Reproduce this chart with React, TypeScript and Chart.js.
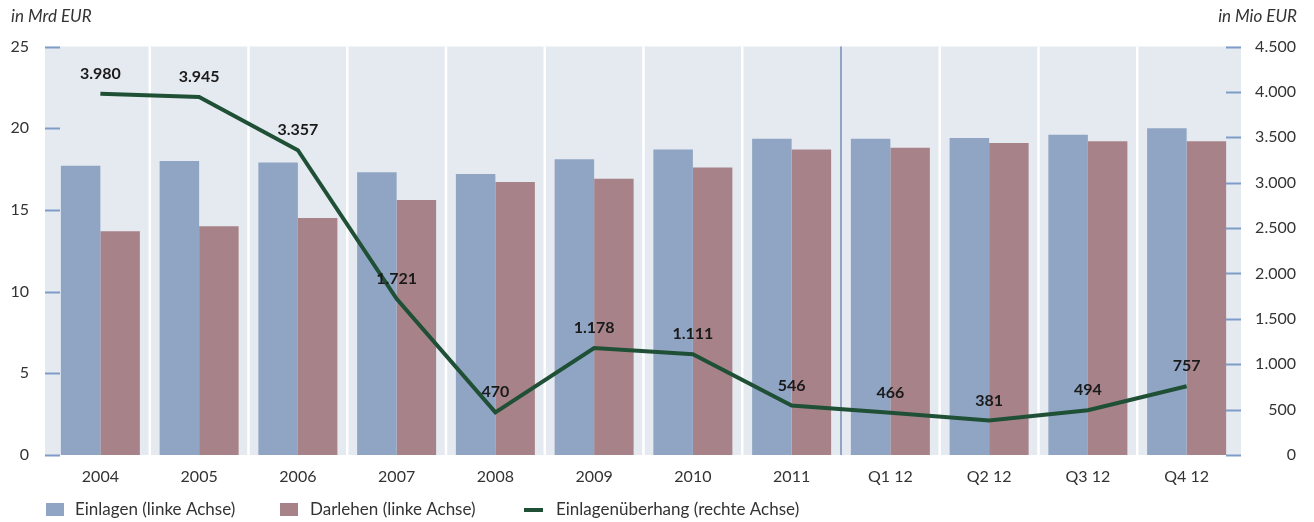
import React, { useEffect, useRef } from "react";
import { Chart, registerables } from "chart.js";

Chart.register(...registerables);

const categories = ["2004", "2005", "2006", "2007", "2008", "2009", "2010", "2011", "Q1 12", "Q2 12", "Q3 12", "Q4 12"];
const einlagen = [17.7, 18.0, 17.9, 17.3, 17.2, 18.1, 18.7, 19.35, 19.35, 19.4, 19.6, 20.0];
const darlehen = [13.7, 14.0, 14.5, 15.6, 16.7, 16.9, 17.6, 18.7, 18.8, 19.1, 19.2, 19.2];
const ueberhang = [3980, 3945, 3357, 1721, 470, 1178, 1111, 546, 466, 381, 494, 757];
const leftTicks = { min: 0, max: 25, step: 5 };
const rightTicks = { min: 0, max: 4500, step: 500 };
const seriesNames = ["Einlagen (linke Achse)", "Darlehen (linke Achse)", "Einlagenüberhang (rechte Achse)"];
const axisTitles = ["in Mrd EUR", "in Mio EUR"];
const dividerAfterIndex = 7;

const BLUE = "#8fa5c3";
const RED = "#a78389";
const GREEN = "#1f5036";
const BG = "#e5e9f0";
const TICKBLUE = "#7f9cc8";
const TEXT = "#333333";
const FONT = "Lato, 'Open Sans', sans-serif";

const fmt = (v: number) => String(Math.round(v)).replace(/\B(?=(\d{3})+(?!\d))/g, ".");

const decorPlugin = {
  id: "decor",
  beforeDatasetsDraw(chart: any) {
    const { ctx, chartArea } = chart;
    const { left, right, top, bottom } = chartArea;
    const bgL = left - 6;
    const bgR = right + 5;
    ctx.save();
    ctx.fillStyle = BG;
    ctx.fillRect(bgL, top, bgR - bgL, bottom - top);
    const n = categories.length;
    const w = (right - left) / n;
    for (let i = 1; i < n; i++) {
      const x = left + i * w;
      ctx.beginPath();
      if (i === dividerAfterIndex + 1) {
        ctx.strokeStyle = BLUE;
        ctx.lineWidth = 2;
      } else {
        ctx.strokeStyle = "#ffffff";
        ctx.lineWidth = 2.5;
      }
      ctx.moveTo(x, top);
      ctx.lineTo(x, bottom);
      ctx.stroke();
    }
    ctx.strokeStyle = TICKBLUE;
    ctx.lineWidth = 2;
    chart.scales.y.ticks.forEach((t: any) => {
      const y = Math.round(chart.scales.y.getPixelForValue(t.value)) + 0.5;
      ctx.beginPath();
      ctx.moveTo(bgL, y);
      ctx.lineTo(bgL + 15, y);
      ctx.stroke();
    });
    chart.scales.y1.ticks.forEach((t: any) => {
      const y = Math.round(chart.scales.y1.getPixelForValue(t.value)) + 0.5;
      ctx.beginPath();
      ctx.moveTo(bgR - 15, y);
      ctx.lineTo(bgR, y);
      ctx.stroke();
    });
    ctx.restore();
  },
  afterDatasetsDraw(chart: any) {
    const { ctx } = chart;
    const meta = chart.getDatasetMeta(2);
    ctx.save();
    ctx.font = `bold 16px ${FONT}`;
    ctx.fillStyle = "#1a1a1a";
    ctx.textAlign = "center";
    ctx.textBaseline = "middle";
    meta.data.forEach((pt: any, i: number) => {
      ctx.fillText(fmt(ueberhang[i]), pt.x, pt.y - 20);
    });
    ctx.restore();
  },
  afterDraw(chart: any) {
    const { ctx, width } = chart;
    ctx.save();
    ctx.fillStyle = TEXT;
    ctx.font = `italic 17px ${FONT}`;
    ctx.textBaseline = "middle";
    ctx.textAlign = "left";
    ctx.fillText(axisTitles[0], 11, 17);
    ctx.textAlign = "right";
    ctx.fillText(axisTitles[1], width - 17, 17);

    // legend
    const ly = 510;
    ctx.font = `17px ${FONT}`;
    ctx.textAlign = "left";
    ctx.fillStyle = BLUE;
    ctx.fillRect(46, ly - 7, 18, 13);
    ctx.fillStyle = TEXT;
    ctx.fillText(seriesNames[0], 75, ly);
    ctx.fillStyle = RED;
    ctx.fillRect(280, ly - 7, 18, 13);
    ctx.fillStyle = TEXT;
    ctx.fillText(seriesNames[1], 310, ly);
    ctx.strokeStyle = GREEN;
    ctx.lineWidth = 4;
    ctx.beginPath();
    ctx.moveTo(524, ly);
    ctx.lineTo(543, ly);
    ctx.stroke();
    ctx.fillStyle = TEXT;
    ctx.fillText(seriesNames[2], 556, ly);
    ctx.restore();
  },
};

export default function App() {
  const ref = useRef<HTMLCanvasElement | null>(null);
  useEffect(() => {
    let chart: Chart | null = null;
    let cancelled = false;
    const make = () => {
      if (cancelled || !ref.current) return;
      chart = new Chart(ref.current, {
        data: {
          labels: categories,
          datasets: [
            {
              type: "bar",
              label: seriesNames[0],
              data: einlagen,
              backgroundColor: BLUE,
              borderWidth: 0,
              categoryPercentage: 0.8,
              barPercentage: 1.0,
              yAxisID: "y",
              order: 2,
            },
            {
              type: "bar",
              label: seriesNames[1],
              data: darlehen,
              backgroundColor: RED,
              borderWidth: 0,
              categoryPercentage: 0.8,
              barPercentage: 1.0,
              yAxisID: "y",
              order: 2,
            },
            {
              type: "line",
              label: seriesNames[2],
              data: ueberhang,
              borderColor: GREEN,
              backgroundColor: GREEN,
              borderWidth: 4,
              pointRadius: 0,
              tension: 0,
              borderJoinStyle: "miter",
              yAxisID: "y1",
              order: 0,
            },
          ],
        } as any,
        options: {
          responsive: false,
          animation: false,
          layout: { padding: { left: 0, right: 18, top: 46.5, bottom: 37 } },
          plugins: {
            legend: { display: false },
            tooltip: { enabled: false },
          },
          scales: {
            x: {
              type: "category",
              grid: { display: false, drawTicks: false },
              border: { display: false },
              ticks: {
                color: TEXT,
                font: { family: FONT, size: 16 },
                padding: 12,
                maxRotation: 0,
                autoSkip: false,
              },
              afterFit: (s: any) => {
                s.height = 30;
              },
            },
            y: {
              position: "left",
              min: leftTicks.min,
              max: leftTicks.max,
              grid: { display: false, drawTicks: false },
              border: { display: false },
              ticks: {
                stepSize: leftTicks.step,
                color: TEXT,
                font: { family: FONT, size: 16 },
                padding: 22,
              },
              afterFit: (s: any) => {
                s.width = 51;
              },
            },
            y1: {
              position: "right",
              min: rightTicks.min,
              max: rightTicks.max,
              grid: { display: false, drawTicks: false },
              border: { display: false },
              ticks: {
                stepSize: rightTicks.step,
                color: TEXT,
                font: { family: FONT, size: 16 },
                crossAlign: "far",
                padding: 10,
                callback: (v: any) => fmt(Number(v)),
              },
              afterFit: (s: any) => {
                s.width = 60;
              },
            },
          },
        } as any,
        plugins: [decorPlugin],
      });
    };
    const fonts = (document as any).fonts;
    if (fonts && fonts.load) {
      Promise.all([
        fonts.load(`16px Lato`),
        fonts.load(`bold 16px Lato`),
        fonts.load(`italic 17px Lato`),
      ]).then(make, make);
    } else {
      make();
    }
    return () => {
      cancelled = true;
      if (chart) chart.destroy();
    };
  }, []);
  return (
    <div style={{ position: "absolute", left: 0, top: 0, width: 1314, height: 522, background: "#ffffff" }}>
      <canvas ref={ref} width={1314} height={522} style={{ display: "block" }} />
    </div>
  );
}
